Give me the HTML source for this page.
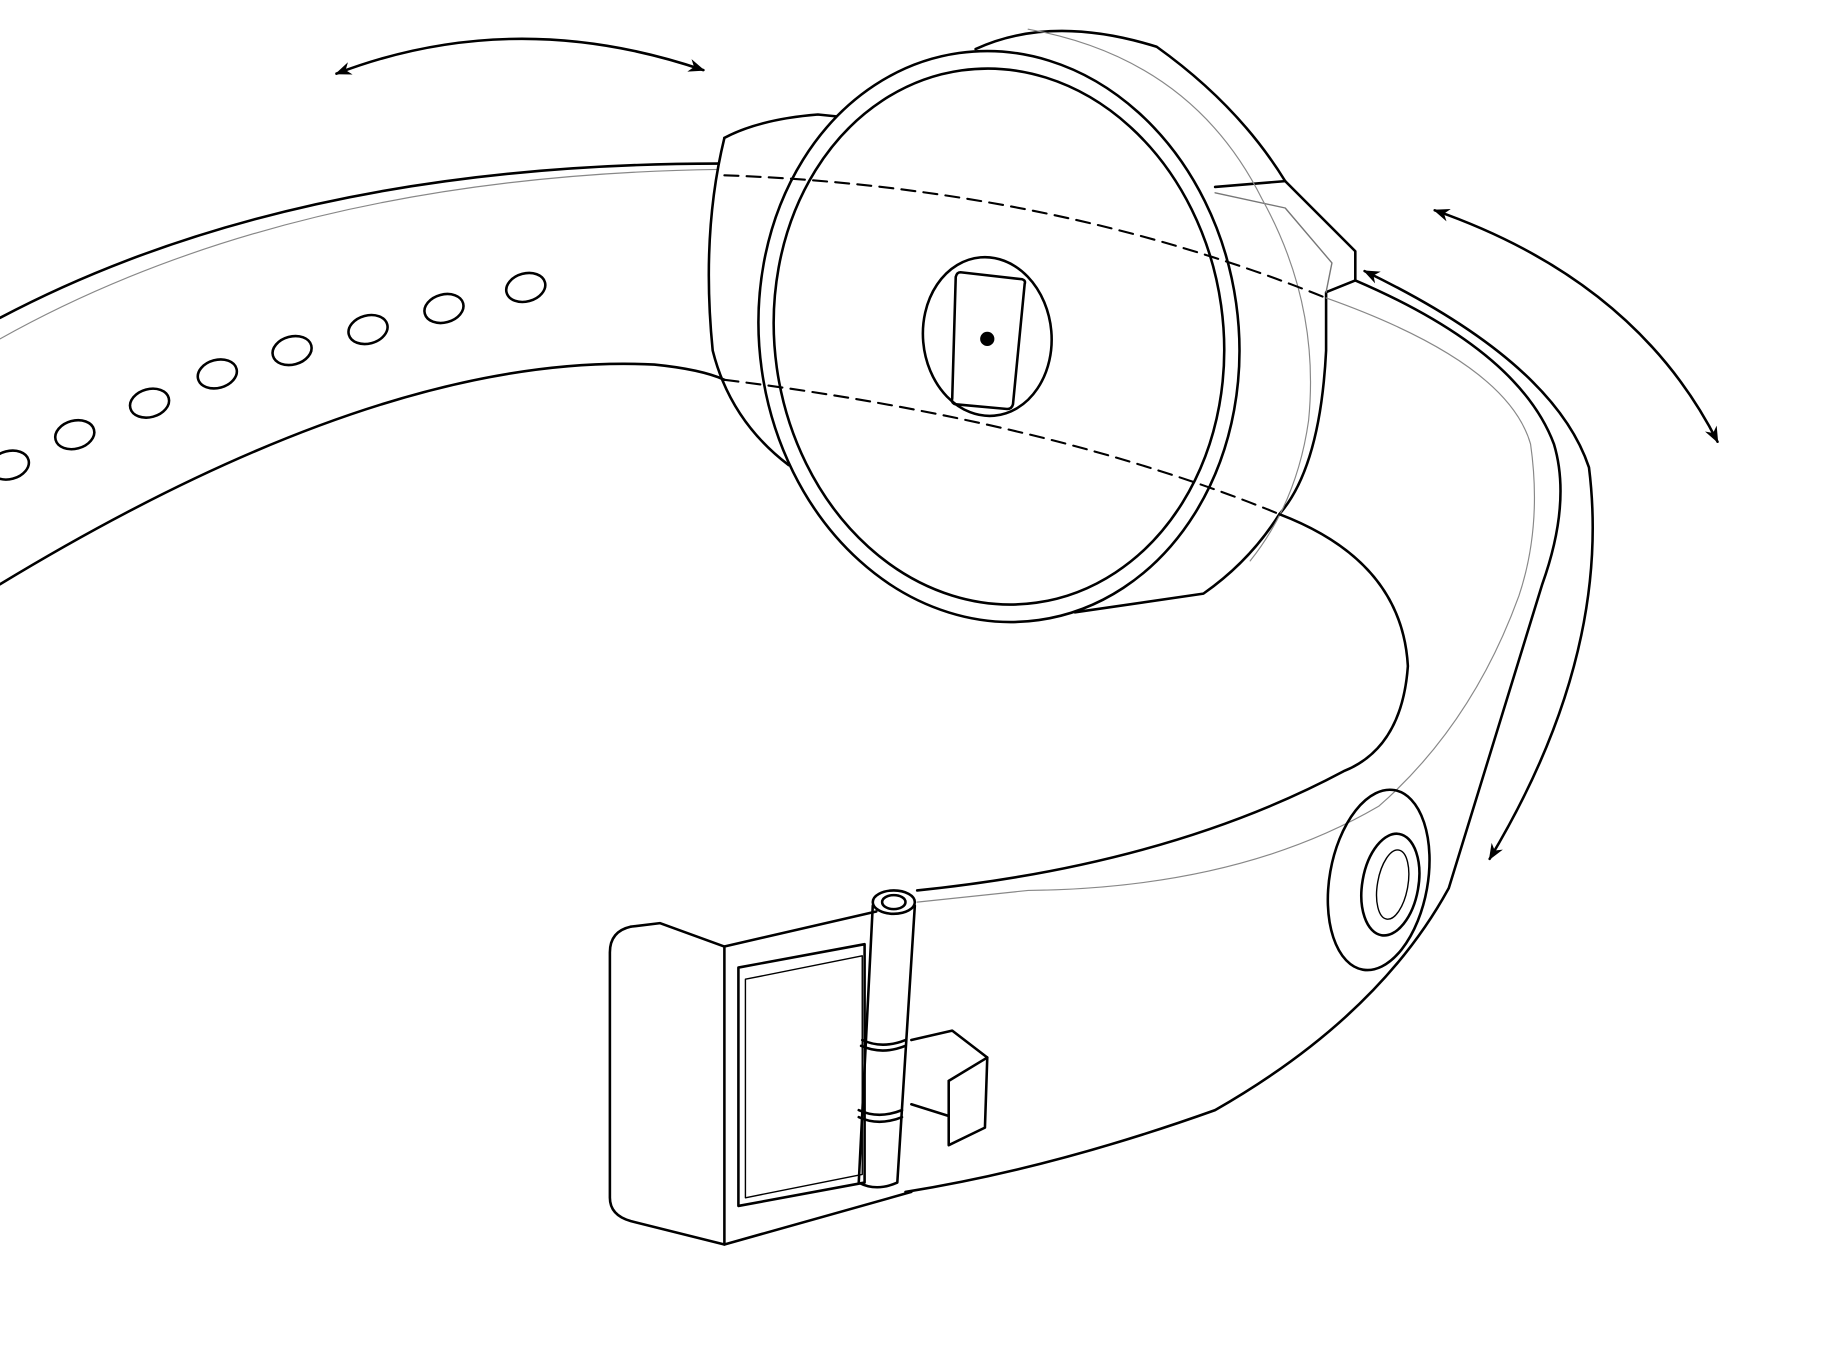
<!DOCTYPE html>
<html><head><meta charset="utf-8"><style>html,body{margin:0;padding:0;background:#fff}svg{display:block}</style></head>
<body>
<svg width="1832" height="1345" viewBox="0 0 1568 1151" preserveAspectRatio="none" xmlns="http://www.w3.org/2000/svg">
<defs>
<marker id="ah" viewBox="0 0 10 10" refX="9" refY="5" markerWidth="14" markerHeight="14" orient="auto-start-reverse" markerUnits="userSpaceOnUse"><path d="M0,1 L10,5 L0,9 L3,5 Z" fill="#000"/></marker>
</defs>
<g fill="none" stroke="#000" stroke-width="2.2" stroke-linejoin="round" stroke-linecap="round">
<path d="M288,63 Q440,5 602,60" marker-start="url(#ah)" marker-end="url(#ah)"/>
<path d="M1228,180 Q1400,240 1470,378" marker-start="url(#ah)" marker-end="url(#ah)"/>
<path d="M1168,232 Q1330,310 1360,400 Q1380,560 1275,735" marker-start="url(#ah)" marker-end="url(#ah)"/>

<path d="M0,272 Q250,140 615,140"/>
<path d="M0,290 Q250,150 615,145" stroke="#888" stroke-width="1"/>
<path d="M0,500 Q330,300 560,312 Q600,316 620,325"/>
<g>
<ellipse cx="450" cy="246" rx="17" ry="12" transform="rotate(-15 450 246)"/>
<ellipse cx="380" cy="264" rx="17" ry="12" transform="rotate(-15 380 264)"/>
<ellipse cx="315" cy="282" rx="17" ry="12" transform="rotate(-15 315 282)"/>
<ellipse cx="250" cy="300" rx="17" ry="12" transform="rotate(-15 250 300)"/>
<ellipse cx="186" cy="320" rx="17" ry="12" transform="rotate(-15 186 320)"/>
<ellipse cx="128" cy="345" rx="17" ry="12" transform="rotate(-15 128 345)"/>
<ellipse cx="64" cy="372" rx="17" ry="12" transform="rotate(-15 64 372)"/>
<ellipse cx="8" cy="398" rx="17" ry="12" transform="rotate(-15 8 398)"/>
</g>

<path d="M620,118 Q650,102 700,98 L720,100"/>
<path d="M620,118 Q600,200 610,300 Q625,360 675,398"/>
<path d="M835,42 Q900,12 990,40 Q1060,90 1100,155 L1160,215 L1160,240 L1135,250 L1135,300 Q1130,400 1095,440 Q1070,480 1030,508 L920,524"/>
<path d="M1040,160 L1100,155"/>
<path d="M1040,165 L1100,178 L1140,225 L1135,250" stroke-width="1.2" stroke="#777"/>
<path d="M880,25 Q1020,50 1080,170 Q1130,260 1120,360 Q1110,430 1070,480" stroke="#888" stroke-width="1"/>

<ellipse cx="855" cy="288" rx="205" ry="245" transform="rotate(-8 855 288)" fill="#fff"/>
<ellipse cx="855" cy="288" rx="192" ry="230" transform="rotate(-8 855 288)"/>
<ellipse cx="845" cy="288" rx="55" ry="68" transform="rotate(-5 845 288)"/>
<path d="M822,233 L875,239 Q878,240 877,243 L867,346 Q866,350 862,350 L818,346 Q814,345 815,341 L818,237 Q819,233 822,233 Z"/>
<circle cx="845" cy="290" r="5" fill="#000"/>

<path d="M620,150 Q900,160 1135,255" stroke-dasharray="12,7" stroke-width="1.8"/>
<path d="M620,325 Q900,360 1095,440" stroke-dasharray="12,7" stroke-width="1.8"/>

<path d="M1160,240 Q1300,300 1330,380 Q1345,430 1320,500 L1240,760 Q1180,870 1040,950 Q900,1000 775,1020"/>
<path d="M1135,255 Q1290,310 1310,380 Q1320,450 1300,510 Q1260,620 1180,690 Q1060,760 880,762 L785,772" stroke="#888" stroke-width="1"/>
<path d="M1095,440 Q1200,480 1205,570 Q1200,640 1150,660 Q1000,740 785,762"/>
<ellipse cx="1180" cy="753" rx="42" ry="78" transform="rotate(10 1180 753)"/>
<ellipse cx="1190" cy="757" rx="24" ry="44" transform="rotate(10 1190 757)"/>
<ellipse cx="1192" cy="757" rx="13" ry="30" transform="rotate(10 1192 757)" stroke-width="1.2"/>

<path d="M540,793 L565,790 L620,810 L750,780"/>
<path d="M540,793 Q522,797 522,815 L522,1025 Q522,1040 540,1045 L620,1065 L780,1020"/>
<path d="M620,810 L620,1065"/>
<path d="M632,828 L740,808 L740,1012 L632,1032 Z"/>
<path d="M638,838 L738,818 L738,1005 L638,1025 Z" stroke-width="1.2"/>
<ellipse cx="765" cy="772" rx="18" ry="10"/>
<ellipse cx="765" cy="772" rx="10" ry="6"/>
<path d="M747,775 L735,1012 Q750,1020 768,1012 L783,775"/>
<path d="M738,890 Q755,898 775,890 M737,895 Q755,903 775,895 M735,950 Q752,958 772,950 M735,956 Q752,964 772,956"/>
<path d="M780,890 L815,882 L845,905 L843,965 L812,980 L812,955 L780,945"/>
<path d="M812,925 L845,905 M812,925 L812,955"/>
</g>
</svg>
</body></html>
